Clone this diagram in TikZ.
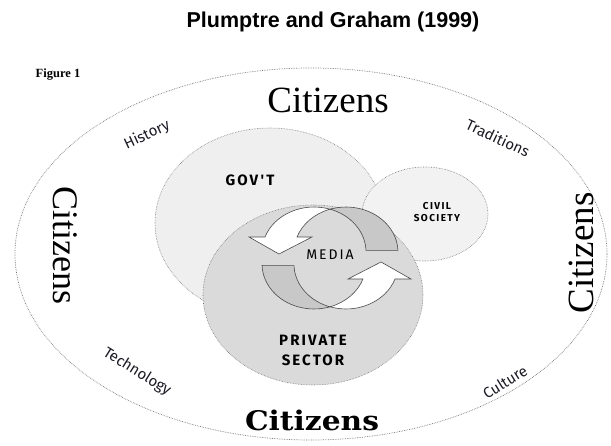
\documentclass[tikz,border=0pt]{standalone}
\usepackage{fontspec}
\setmainfont{Liberation Serif}
\newfontfamily\titlefont{Liberation Sans}
\newfontfamily\comicfont{Fira Sans}
\newfontfamily\capsfont[LetterSpace=14]{Fira Sans}
\newfontfamily\heavyfont{DejaVu Serif}
\usepackage{tikz}

\definecolor{govgray}{HTML}{EFEFEF}
\definecolor{civilgray}{HTML}{F2F2F2}
\definecolor{privategray}{HTML}{DADADA}
\definecolor{ribbongray}{HTML}{C8C8C8}
\definecolor{ribbonline}{HTML}{4A4A4A}
\definecolor{ringline}{HTML}{777777}
\definecolor{labelink}{HTML}{1A1A24}

\newcommand{\mediaribbon}{%
  \filldraw[fill=ribbongray, draw=ribbonline, line width=0.6pt]
    (330,235.8)
    arc[start angle=107.9, end angle=2, x radius=52pt, y radius=45pt]
    --
    (366,194.6)
    arc[start angle=2, end angle=72.1, x radius=52pt, y radius=45pt]
    --
    cycle;
  \filldraw[fill=white, draw=ribbonline, line width=0.6pt]
    (330,235.8)
    arc[start angle=72.1, end angle=160.5, x radius=52pt, y radius=45pt]
    --
    (249,208)
    --
    (279,191)
    --
    (312,208)
    --
    (297,208)
    arc[start angle=160.5, end angle=107.9, x radius=52pt, y radius=45pt]
    --
    cycle;
}

\begin{document}
\begin{tikzpicture}[x=1pt, y=1pt]
  \useasboundingbox
    (0,0)
    rectangle
    (611,445);
  \draw[ringline, densely dotted, line width=0.7pt]
    (311,191)
    ellipse
    [x radius=296pt, y radius=186pt];
  \filldraw[fill=govgray, draw=ringline, densely dotted, line width=0.6pt]
    (270,222)
    ellipse
    [x radius=115pt, y radius=95pt];
  \filldraw[fill=civilgray, draw=ringline, densely dotted, line width=0.6pt]
    (425,231)
    ellipse
    [x radius=63pt, y radius=47pt];
  \filldraw[fill=privategray, draw=ringline, densely dotted, line width=0.6pt]
    (313,150)
    ellipse
    [x radius=110pt, y radius=90pt];
  \mediaribbon
  \begin{scope}[rotate around={180:(330,187)}]
    \mediaribbon
  \end{scope}
  \node[font=\titlefont\bfseries\fontsize{21.5}{21.5}\selectfont] (title) at (333,423) {Plumptre and Graham (1999)};
  \node[font=\bfseries\fontsize{12.5}{12.5}\selectfont] (figure) at (58,370) {Figure 1};
  \node[font=\fontsize{37}{37}\selectfont] (citizenstop) at (328,345) {Citizens};
  \node[font=\fontsize{36}{36}\selectfont, rotate=-90] (citizensleft) at (65,200) {Citizens};
  \node[font=\fontsize{37}{37}\selectfont, rotate=90] (citizensright) at (581,192) {Citizens};
  \node[font=\heavyfont\bfseries\fontsize{27}{27}\selectfont, xscale=1.1] (citizensbottom) at (312,25) {Citizens};
  \node[font=\comicfont\fontsize{15}{15}\selectfont, text=labelink, rotate=25] (history) at (147,310) {History};
  \node[font=\comicfont\fontsize{15}{15}\selectfont, text=labelink, rotate=-25] (traditions) at (498,307) {Traditions};
  \node[font=\comicfont\fontsize{15}{15}\selectfont, text=labelink, rotate=-32] (technology) at (137,73) {Technology};
  \node[font=\comicfont\fontsize{15}{15}\selectfont, text=labelink, rotate=32] (culture) at (505,63) {Culture};
  \node[font=\capsfont\bfseries\fontsize{15}{15}\selectfont] (govt) at (250,265) {GOV'T};
  \node[font=\capsfont\bfseries\fontsize{10}{12}\selectfont, align=center] (civil) at (437,233) {CIVIL\\SOCIETY};
  \node[font=\capsfont\fontsize{14}{14}\selectfont] (media) at (330,190) {MEDIA};
  \node[font=\capsfont\bfseries\fontsize{15}{20}\selectfont, align=center] (private) at (313,95) {PRIVATE\\SECTOR};
\end{tikzpicture}
\end{document}
